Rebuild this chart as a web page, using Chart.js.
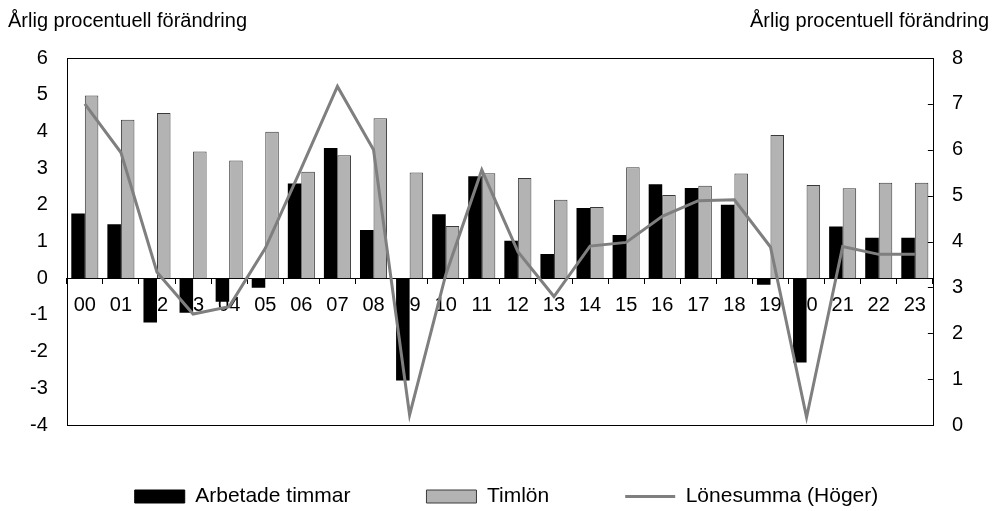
<!DOCTYPE html>
<html>
<head>
<meta charset="utf-8">
<script src="https://cdn.jsdelivr.net/npm/chart.js@4/dist/chart.umd.min.js"></script>
<style>
  html, body { margin: 0; padding: 0; background: #fff; }
  #wrap { width: 992px; height: 511px; }
</style>
</head>
<body>
<div id="wrap"><canvas id="chartLon"></canvas></div>
<script>
// ==================== DATOS ====================
const years = ['00','01','02','03','04','05','06','07','08','09','10','11',
               '12','13','14','15','16','17','18','19','20','21','22','23'];
const arbetadeTimmar = [1.76, 1.47, -1.21, -0.94, -0.64, -0.26, 2.58, 3.55, 1.31, -2.79, 1.74, 2.78,
                        1.02, 0.66, 1.91, 1.18, 2.56, 2.46, 2.00, -0.18, -2.30, 1.41, 1.10, 1.10];
const timlon = [4.98, 4.32, 4.50, 3.45, 3.21, 3.99, 2.90, 3.35, 4.36, 2.88, 1.42, 2.86,
                2.73, 2.14, 1.94, 3.02, 2.27, 2.52, 2.85, 3.90, 2.54, 2.45, 2.60, 2.60];
const lonesumma = [7.00, 5.94, 3.33, 2.42, 2.58, 3.85, 5.60, 7.38, 6.00, 0.22, 3.27, 5.56,
                   3.78, 2.80, 3.90, 3.98, 4.55, 4.89, 4.91, 3.88, 0.17, 3.89, 3.72, 3.72];
const axelTitel = 'Årlig procentuell förändring';

document.addEventListener("DOMContentLoaded", function() {
    Chart.defaults.font.family = '"Liberation Sans", Arial, sans-serif';
    Chart.defaults.color = '#000';

    // ram runt ritytan, inåtvända ticks på högeraxeln och axeltitlar
    const ramPlugin = {
        id: 'ram',
        afterLayout(chart) {
            // legenden: stort mellanrum i sidled men närmare ritytan
            const lg = chart.legend;
            lg.top -= 15; lg.bottom -= 15;
            lg.left += 10; lg.right += 10;
        },
        afterDraw(chart) {
            const ctx = chart.ctx;
            const a = chart.chartArea;
            ctx.save();
            ctx.strokeStyle = '#000';
            ctx.lineWidth = 1;
            ctx.strokeRect(Math.round(a.left) + 0.5, Math.round(a.top) + 0.5,
                           Math.round(a.right - a.left), Math.round(a.bottom - a.top));
            const y1 = chart.scales.y1;
            y1.ticks.forEach(t => {
                const py = Math.round(y1.getPixelForValue(t.value)) + 0.5;
                ctx.beginPath();
                ctx.moveTo(a.right - 5, py);
                ctx.lineTo(a.right, py);
                ctx.stroke();
            });
            ctx.fillStyle = '#000';
            ctx.font = '20px "Liberation Sans", Arial, sans-serif';
            ctx.textBaseline = 'middle';
            ctx.textAlign = 'left';
            ctx.fillText(axelTitel, 8, 21);
            ctx.textAlign = 'right';
            ctx.fillText(axelTitel, 989, 21);
            ctx.restore();
        }
    };

    const ctx = document.getElementById('chartLon').getContext('2d');

    new Chart(ctx, {
        type: 'bar',
        data: {
            labels: years,
            datasets: [{
                label: 'Arbetade timmar',
                data: arbetadeTimmar,
                backgroundColor: '#000000',
                borderWidth: 0,
                yAxisID: 'y',
                order: 1
            }, {
                label: 'Timlön',
                data: timlon,
                backgroundColor: '#b3b3b3',
                borderColor: '#3a3a3a',
                borderWidth: 1,
                yAxisID: 'y',
                order: 1
            }, {
                type: 'line',
                label: 'Lönesumma (Höger)',
                data: lonesumma,
                borderColor: '#7f7f7f',
                backgroundColor: '#7f7f7f',
                borderWidth: 3,
                pointRadius: 0,
                tension: 0,
                yAxisID: 'y1',
                order: 0
            }]
        },
        options: {
            responsive: true,
            maintainAspectRatio: false,
            animation: false,
            categoryPercentage: 0.75,
            barPercentage: 1,
            layout: {
                padding: { top: 58, left: 11, right: 10, bottom: -21 }
            },
            plugins: {
                tooltip: { enabled: false },
                legend: {
                    position: 'bottom',
                    labels: {
                        usePointStyle: true,
                        pointStyleWidth: 50,
                        boxHeight: 13,
                        padding: 76,
                        font: { size: 21 },
                        color: '#000',
                        sort: (a, b) => a.datasetIndex - b.datasetIndex,
                        generateLabels(chart) {
                            return chart.data.datasets.map((ds, i) => ({
                                text: ds.label,
                                datasetIndex: i,
                                fillStyle: ds.type === 'line' ? ds.borderColor : ds.backgroundColor,
                                strokeStyle: ds.type === 'line' ? ds.borderColor : (ds.borderColor || ds.backgroundColor),
                                lineWidth: ds.type === 'line' ? 3 : 1,
                                pointStyle: ds.type === 'line' ? 'line' : 'rect',
                                fontColor: '#000',
                                hidden: false
                            }));
                        }
                    }
                }
            },
            scales: {
                x: {
                    position: { y: 0 },
                    offset: true,
                    grid: {
                        display: true,
                        drawOnChartArea: false,
                        offset: true,
                        tickLength: 5,
                        color: '#000'
                    },
                    border: { display: true, color: '#000' },
                    ticks: {
                        font: { size: 20 },
                        color: '#000',
                        padding: 10,
                        maxRotation: 0,
                        autoSkip: false
                    }
                },
                y: {
                    position: 'left',
                    min: -4,
                    max: 6,
                    grid: { display: false, drawTicks: false },
                    border: { display: false },
                    ticks: { stepSize: 1, font: { size: 20 }, color: '#000', padding: 19 }
                },
                y1: {
                    position: 'right',
                    min: 0,
                    max: 8,
                    grid: { display: false, drawTicks: false },
                    border: { display: false },
                    ticks: { stepSize: 1, font: { size: 20 }, color: '#000', padding: 19 }
                }
            }
        },
        plugins: [ramPlugin]
    });
});
</script>
</body>
</html>
